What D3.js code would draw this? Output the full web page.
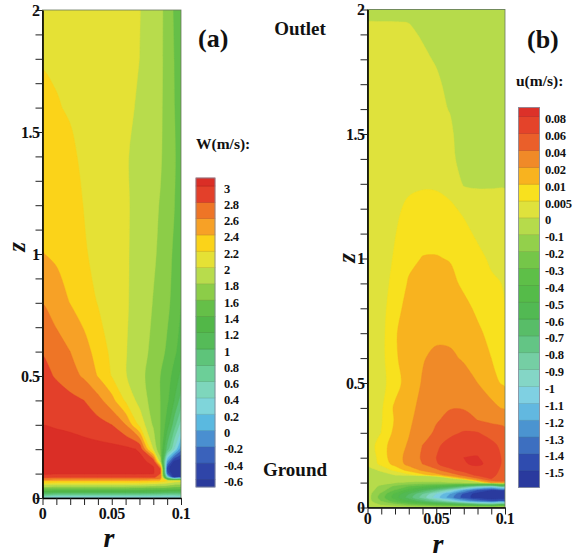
<!DOCTYPE html>
<html>
<head>
<meta charset="utf-8">
<script src="https://cdn.jsdelivr.net/npm/d3@7"></script>
<style>
  body { margin: 0; background: #fff; }
  svg text { font-family: "Liberation Serif", "Times New Roman", serif; font-weight: bold; fill: #111; }
</style>
</head>
<body>
<svg id="chart" width="583" height="558"></svg>
<script>
// ---------- panel (a): axial velocity W (m/s) on an (r, z) grid ----------
const rA = [0, 0.01, 0.02, 0.03, 0.04, 0.05, 0.06, 0.07, 0.08, 0.085, 0.09, 0.095, 0.1];
const zA = [0, 0.01, 0.025, 0.04, 0.055, 0.07, 0.085, 0.1, 0.12, 0.15, 0.2, 0.3, 0.4, 0.5, 0.6, 0.8, 1.0, 1.2, 1.4, 1.6, 1.8, 2.0];
const wField = [
  [0.1, 0.1, 0.1, 0.1, 0.1, 0.1, 0.1, 0.1, 0.1, 0.1, 0.1, 0.1, 0.1],
  [0.55, 0.55, 0.55, 0.55, 0.55, 0.55, 0.55, 0.55, 0.54, 0.53, 0.52, 0.5, 0.48],
  [1.2, 1.2, 1.2, 1.2, 1.2, 1.2, 1.2, 1.19, 1.17, 1.15, 1.12, 1.1, 1.05],
  [1.6, 1.6, 1.6, 1.6, 1.6, 1.6, 1.6, 1.58, 1.56, 1.55, 1.52, 1.5, 1.45],
  [2.0, 2.0, 2.0, 2.0, 2.0, 2.0, 2.0, 1.98, 1.95, 1.92, 1.88, 1.82, 1.75],
  [2.4, 2.4, 2.4, 2.4, 2.4, 2.4, 2.4, 2.4, 2.35, 2.3, 2.2, 2.1, 2.05],
  [2.82, 2.82, 2.82, 2.82, 2.82, 2.82, 2.82, 2.82, 2.82, 2.75, 0.5, -0.7, -0.75],
  [3.03, 3.03, 3.03, 3.03, 3.03, 3.03, 3.03, 3.03, 3.01, 2.8, -0.3, -0.8, -0.85],
  [3.1, 3.1, 3.1, 3.1, 3.1, 3.09, 3.08, 3.06, 3.02, 2.8, -0.5, -0.85, -0.9],
  [3.1, 3.1, 3.1, 3.09, 3.09, 3.08, 3.07, 3.05, 2.95, 1.9, 0.0, -0.65, -0.8],
  [3.1, 3.1, 3.09, 3.08, 3.07, 3.06, 3.05, 2.98, 2.0, 1.6, 0.9, 0.4, -0.15],
  [2.995, 2.98, 2.96, 2.92, 2.87, 2.8, 2.6, 2.15, 1.77, 1.6, 1.3, 0.9, 0.5],
  [2.93, 2.9, 2.86, 2.8, 2.67, 2.47, 2.17, 1.93, 1.71, 1.6, 1.44, 1.2, 0.9],
  [2.86, 2.78, 2.68, 2.57, 2.39, 2.19, 2.01, 1.88, 1.68, 1.6, 1.5, 1.32, 1.15],
  [2.79, 2.7, 2.6, 2.47, 2.33, 2.15, 2.01, 1.9, 1.74, 1.66, 1.57, 1.45, 1.3],
  [2.595, 2.49, 2.395, 2.31, 2.19, 2.1, 2.02, 1.93, 1.79, 1.72, 1.64, 1.54, 1.4],
  [2.405, 2.37, 2.31, 2.215, 2.16, 2.095, 2.02, 1.94, 1.83, 1.76, 1.67, 1.57, 1.45],
  [2.34, 2.31, 2.26, 2.195, 2.14, 2.085, 2.02, 1.95, 1.84, 1.79, 1.71, 1.61, 1.46],
  [2.28, 2.26, 2.23, 2.17, 2.12, 2.07, 2.015, 1.95, 1.87, 1.82, 1.73, 1.63, 1.48],
  [2.235, 2.21, 2.185, 2.15, 2.115, 2.08, 2.035, 1.98, 1.9, 1.83, 1.73, 1.61, 1.47],
  [2.19, 2.18, 2.165, 2.14, 2.11, 2.08, 2.045, 2.0, 1.92, 1.84, 1.73, 1.6, 1.46],
  [2.17, 2.16, 2.15, 2.13, 2.11, 2.08, 2.05, 2.005, 1.93, 1.85, 1.72, 1.58, 1.45]
];
const wLevels = [-0.6, -0.4, -0.2, 0, 0.2, 0.4, 0.6, 0.8, 1, 1.2, 1.4, 1.6, 1.8, 2, 2.2, 2.4, 2.6, 2.8, 3];
// band colours, lowest band first (one more than the number of levels)
const wColors = ["#2a3a9c", "#2f45a8", "#3a62bb", "#4a8fd0", "#5ab9e0", "#7fd5da", "#7ed6bc",
  "#6ccf98", "#5ec47a", "#55bb58", "#52b748", "#65bf48", "#8ccd48", "#b8dc4c",
  "#e5e135", "#fbd319", "#f7a126", "#ee7526", "#e3402a", "#da2e26"];

// ---------- panel (b): radial velocity u (m/s) on an (r, z) grid ----------
const rB = [0, 0.01, 0.02, 0.03, 0.04, 0.05, 0.06, 0.07, 0.08, 0.09, 0.1];
const zB = [0, 0.01, 0.025, 0.04, 0.055, 0.07, 0.085, 0.1, 0.115, 0.13, 0.15, 0.175, 0.2, 0.25, 0.3, 0.35, 0.4,
  0.5, 0.6, 0.7, 0.8, 0.9, 1.0, 1.1, 1.2, 1.3, 1.4, 1.5, 1.6, 1.7, 1.8, 1.9, 1.95, 2.0];
const uField = [
  [-0.02, -0.02, -0.02, -0.02, -0.02, -0.02, -0.02, -0.02, -0.02, -0.02, -0.02],
  [-0.03, -0.1, -0.15, -0.22, -0.28, -0.35, -0.42, -0.5, -0.6, -0.65, -0.65],
  [-0.05, -0.2, -0.35, -0.5, -0.65, -0.8, -0.95, -1.15, -1.3, -1.4, -1.4],
  [-0.05, -0.25, -0.45, -0.65, -0.85, -1.05, -1.25, -1.45, -1.55, -1.6, -1.6],
  [-0.05, -0.22, -0.42, -0.6, -0.8, -1.0, -1.2, -1.42, -1.55, -1.6, -1.6],
  [-0.05, -0.15, -0.3, -0.45, -0.6, -0.75, -0.95, -1.2, -1.4, -1.5, -1.5],
  [-0.04, -0.12, -0.22, -0.3, -0.38, -0.45, -0.55, -0.7, -0.9, -1.0, -0.9],
  [-0.03, -0.06, -0.09, -0.11, -0.12, -0.12, -0.1, -0.05, -0.01, 0.02, 0.025],
  [-0.02, -0.03, -0.04, -0.04, -0.03, -0.02, -0.005, 0.01, 0.035, 0.06, 0.055],
  [-0.01, -0.005, 0.0, 0.003, 0.006, 0.012, 0.025, 0.045, 0.065, 0.068, 0.045],
  [-0.005, 0.002, 0.006, 0.012, 0.022, 0.035, 0.055, 0.068, 0.075, 0.072, 0.05],
  [0.002, 0.006, 0.012, 0.024, 0.04, 0.058, 0.071, 0.079, 0.082, 0.077, 0.053],
  [0.002, 0.0065, 0.014, 0.0245, 0.043, 0.06, 0.072, 0.08, 0.081, 0.072, 0.055],
  [0.002, 0.0075, 0.013, 0.0215, 0.04, 0.056, 0.068, 0.075, 0.074, 0.066, 0.052],
  [0.0015, 0.005, 0.0115, 0.019, 0.03, 0.044, 0.055, 0.062, 0.061, 0.052, 0.045],
  [0.0015, 0.0045, 0.0105, 0.017, 0.027, 0.038, 0.046, 0.046, 0.04, 0.036, 0.034],
  [0.0015, 0.0042, 0.011, 0.016, 0.024, 0.032, 0.039, 0.039, 0.033, 0.024, 0.018],
  [0.0015, 0.0035, 0.0075, 0.013, 0.021, 0.027, 0.03, 0.028, 0.02, 0.0125, 0.0085],
  [0.0015, 0.0035, 0.009, 0.0135, 0.019, 0.023, 0.023, 0.018, 0.0135, 0.01, 0.0075],
  [0.0015, 0.0033, 0.0095, 0.0125, 0.0155, 0.017, 0.016, 0.0135, 0.011, 0.0085, 0.0065],
  [0.0015, 0.0032, 0.008, 0.012, 0.0135, 0.014, 0.013, 0.0115, 0.009, 0.0065, 0.005],
  [0.0015, 0.003, 0.0065, 0.0105, 0.0122, 0.0125, 0.0115, 0.009, 0.007, 0.0055, 0.0048],
  [0.0015, 0.0028, 0.0055, 0.0088, 0.0102, 0.0103, 0.0097, 0.0078, 0.0058, 0.0045, 0.0045],
  [0.0015, 0.0027, 0.0048, 0.0072, 0.0082, 0.0082, 0.0075, 0.0058, 0.0045, 0.0042, 0.0042],
  [0.0015, 0.0025, 0.0042, 0.0058, 0.0065, 0.0065, 0.0055, 0.0045, 0.004, 0.004, 0.004],
  [0.0015, 0.0022, 0.0035, 0.0042, 0.0045, 0.0044, 0.004, -0.0005, -0.001, -0.001, -0.001],
  [0.0015, 0.002, 0.003, 0.0035, 0.0035, 0.0035, 0.003, -0.0045, -0.01, -0.015, -0.02],
  [0.0015, 0.002, 0.003, 0.0035, 0.0035, 0.003, 0.002, -0.006, -0.012, -0.018, -0.02],
  [0.0015, 0.002, 0.003, 0.003, 0.003, 0.0025, -0.0005, -0.01, -0.015, -0.02, -0.02],
  [0.0015, 0.002, 0.0028, 0.003, 0.003, 0.002, -0.003, -0.01, -0.015, -0.02, -0.02],
  [0.0015, 0.002, 0.0025, 0.0028, 0.002, -0.001, -0.008, -0.012, -0.016, -0.02, -0.02],
  [0.0015, 0.0018, 0.002, 0.0018, -0.001, -0.006, -0.01, -0.014, -0.017, -0.02, -0.02],
  [0.0008, 0.0008, 0.0005, -0.0002, -0.005, -0.01, -0.013, -0.016, -0.018, -0.02, -0.02],
  [-0.02, -0.02, -0.02, -0.02, -0.02, -0.02, -0.02, -0.02, -0.02, -0.02, -0.02]
];
const uLevels = [-1.5, -1.4, -1.3, -1.2, -1.1, -1, -0.9, -0.8, -0.7, -0.6, -0.5, -0.4, -0.3, -0.2, -0.1,
  0, 0.005, 0.01, 0.02, 0.04, 0.06, 0.08];
const uColors = ["#2a3a9e", "#2f4caf", "#3d6fc0", "#4b94d0", "#62b8e0", "#7fd0e2", "#84d6c6",
  "#75cea4", "#63c585", "#58bd68", "#52b953", "#55bb49", "#5ebf48", "#75c649", "#93d04b",
  "#b6db4b", "#dfe23c", "#f8e11e", "#f8b31f", "#f08a28", "#ea5f2a", "#e4432a", "#dc3129"];

// ---------- axes ----------
const yTickLabels = [0, 0.5, 1, 1.5, 2];
const xTickLabels = [0, 0.05, 0.1];
const yMinorTicks = d3.range(0, 21).map(i => i / 10);
const xMinorTicks = d3.range(0, 11).map(i => i / 100);

const svg = d3.select("#chart");

function drawField(g, field, rs, zs, levels, colors, x, y, clipId) {
  const nx = rs.length, ny = zs.length;
  const colIdx = d3.scaleLinear().domain(d3.range(nx)).range(rs).clamp(true);
  const rowIdx = d3.scaleLinear().domain(d3.range(ny)).range(zs).clamp(true);
  const bands = d3.contours().size([nx, ny]).thresholds(levels)(field.flat());
  const ring = d3.line()
    .x(p => x(colIdx(p[0] - 0.5)))
    .y(p => y(rowIdx(p[1] - 0.5)))
    .curve(d3.curveCatmullRomClosed.alpha(0.5));

  const [x0, x1] = x.range();
  const [y0, y1] = y.range();
  svg.append("clipPath").attr("id", clipId)
    .append("rect").attr("x", x0).attr("y", y1).attr("width", x1 - x0).attr("height", y0 - y1);

  const layer = g.append("g").attr("clip-path", `url(#${clipId})`);
  layer.append("rect")
    .attr("x", x0).attr("y", y1).attr("width", x1 - x0).attr("height", y0 - y1)
    .attr("fill", colors[0]);
  bands.forEach((c, i) => {
    const d = c.coordinates.map(poly => poly.map(r => ring(r)).join("")).join("");
    if (!d) return;
    layer.append("path")
      .attr("d", d)
      .attr("fill", colors[i + 1])
      .attr("fill-rule", "evenodd")
      .attr("stroke", colors[i + 1])
      .attr("stroke-width", 0.4);
  });
}

function fmt(v) { return String(v); }

function drawAxes(g, x, y, xLabelDy, opts) {
  const [x0, x1] = x.range();
  const [y0, y1] = y.range();
  g.append("rect").attr("x", x0).attr("y", y1).attr("width", x1 - x0).attr("height", y0 - y1)
    .attr("fill", "none").attr("stroke", "#6b7b60").attr("stroke-width", 0.8);

  const ax = d3.axisBottom(x).tickValues(xMinorTicks).tickSize(7).tickSizeOuter(0).tickFormat("");
  const ay = d3.axisLeft(y).tickValues(yMinorTicks).tickSize(7).tickSizeOuter(0).tickFormat("");
  const gx = g.append("g").attr("transform", `translate(0,${y0})`).call(ax);
  const gy = g.append("g").attr("transform", `translate(${x0},0)`).call(ay);
  [gx, gy].forEach(a => {
    a.select(".domain").attr("stroke", "#000").attr("stroke-width", 1.6);
    a.selectAll(".tick line").attr("stroke", "#222").attr("stroke-width", 1);
  });

  g.selectAll(null).data(yTickLabels).enter().append("text")
    .attr("x", x0 - 3).attr("y", d => y(d) + 5.5)
    .attr("text-anchor", "end").attr("font-size", 16)
    .style("letter-spacing", "-0.5px")
    .text(fmt);
  g.selectAll(null).data(xTickLabels).enter().append("text")
    .attr("x", d => x(d)).attr("y", y0 + xLabelDy)
    .attr("text-anchor", "middle").attr("font-size", 16)
    .style("letter-spacing", "-0.5px")
    .text(fmt);

  g.append("text").attr("x", opts.rx).attr("y", opts.ry)
    .attr("text-anchor", "middle").attr("font-size", 28).attr("font-style", "italic")
    .text("r");
  g.append("text")
    .attr("transform", `translate(${opts.zx},${opts.zy}) rotate(-90)`)
    .attr("text-anchor", "middle").attr("dominant-baseline", "central")
    .attr("font-size", 25).attr("font-style", "italic")
    .text("z");
}

function drawLegend(g, levels, colors, title, o) {
  const n = levels.length;
  const ly = d3.scaleLinear().domain([n - 1, 0]).range([o.firstY, o.firstY + o.step * (n - 1)]);
  for (let i = 0; i <= n; i++) {
    const top = i === n ? o.barTop : ly(i);
    const bottom = i === 0 ? o.barBottom : ly(i - 1);
    g.append("rect")
      .attr("x", o.x).attr("y", top).attr("width", o.w).attr("height", bottom - top)
      .attr("fill", colors[i])
      .attr("stroke", d3.color(colors[i]).darker(0.45))
      .attr("stroke-width", 0.6);
  }
  g.append("rect").attr("x", o.x).attr("y", o.barTop).attr("width", o.w)
    .attr("height", o.barBottom - o.barTop)
    .attr("fill", "none").attr("stroke", "#8a8fa0").attr("stroke-width", 0.8);
  g.selectAll(null).data(levels).enter().append("text")
    .attr("x", o.labelX).attr("y", (d, i) => ly(i) + 6.5)
    .attr("font-size", o.fontSize)
    .style("letter-spacing", "-0.3px")
    .text(fmt);
  g.append("text").attr("x", o.titleX).attr("y", o.titleY)
    .attr("font-size", o.titleSize)
    .text(title);
}

// ---------- panel (a) ----------
const xA = d3.scaleLinear().domain([0, 0.1]).range([42.5, 181]);
const yA = d3.scaleLinear().domain([0, 2]).range([498, 10]);
const gA = svg.append("g");
drawField(gA, wField, rA, zA, wLevels, wColors, xA, yA, "clipA");
drawAxes(gA, xA, yA, 20.5, { rx: 109, ry: 547, zx: 16, zy: 247 });
drawLegend(gA, wLevels, wColors, "W(m/s):", {
  x: 196, w: 19, barTop: 178, barBottom: 487, firstY: 186, step: 16.3,
  labelX: 224, fontSize: 12.5, titleX: 196, titleY: 149, titleSize: 15.5
});
gA.append("text").attr("x", 198).attr("y", 47).attr("font-size", 26).attr("font-weight", "normal").text("(a)");

// ---------- panel (b) ----------
const xB = d3.scaleLinear().domain([0, 0.1]).range([367.5, 505]);
const yB = d3.scaleLinear().domain([0, 2]).range([507.5, 9.5]);
const gB = svg.append("g");
drawField(gB, uField, rB, zB, uLevels, uColors, xB, yB, "clipB");
drawAxes(gB, xB, yB, 16, { rx: 438, ry: 553, zx: 346, zy: 258 });
drawLegend(gB, uLevels, uColors, "u(m/s):", {
  x: 518.5, w: 21, barTop: 107.5, barBottom: 487.5, firstY: 116.7, step: 16.86,
  labelX: 545, fontSize: 12.5, titleX: 516, titleY: 86, titleSize: 15.5
});
gB.append("text").attr("x", 527).attr("y", 48).attr("font-size", 26).attr("font-weight", "normal").text("(b)");

// ---------- boundary annotations ----------
svg.append("text").attr("x", 300).attr("y", 35).attr("text-anchor", "middle").attr("font-size", 19).text("Outlet");
svg.append("text").attr("x", 295).attr("y", 476).attr("text-anchor", "middle").attr("font-size", 19).text("Ground");
</script>
</body>
</html>
